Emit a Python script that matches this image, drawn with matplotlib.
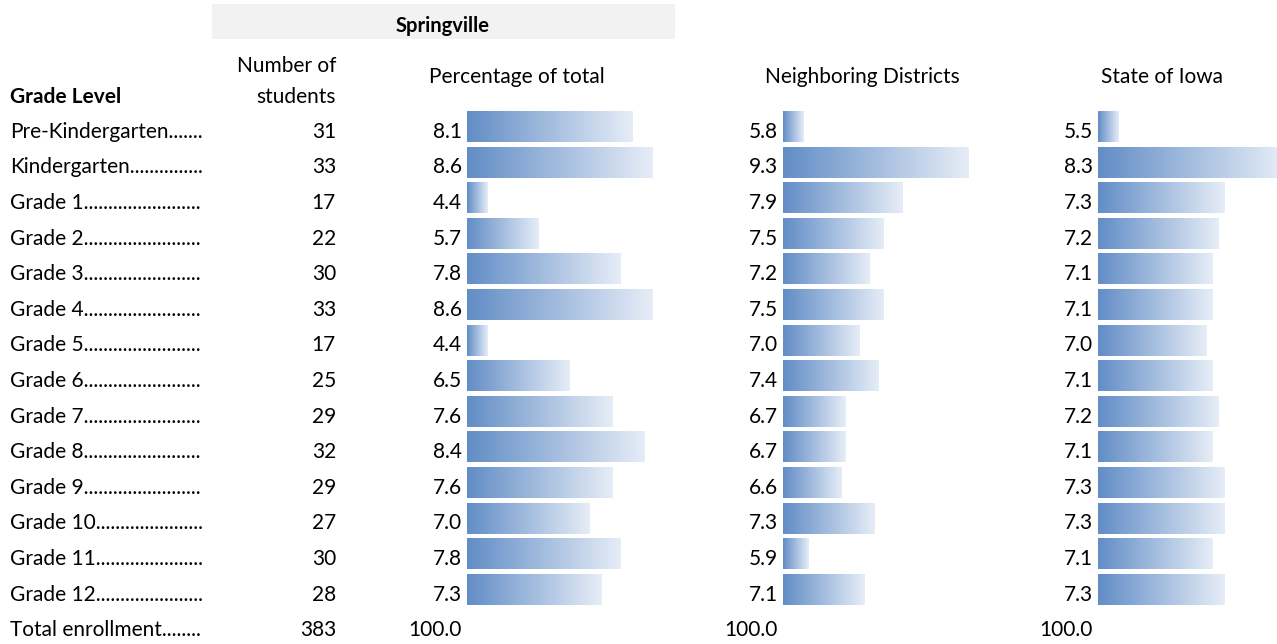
import matplotlib
matplotlib.use("Agg")
import matplotlib.pyplot as plt
from matplotlib.colors import LinearSegmentedColormap
from matplotlib.patches import Rectangle
import numpy as np

# data
grades = ["Pre-Kindergarten", "Kindergarten", "Grade 1", "Grade 2", "Grade 3",
          "Grade 4", "Grade 5", "Grade 6", "Grade 7", "Grade 8", "Grade 9",
          "Grade 10", "Grade 11", "Grade 12"]
students = [31, 33, 17, 22, 30, 33, 17, 25, 29, 32, 29, 27, 30, 28]
pct_total = [8.1, 8.6, 4.4, 5.7, 7.8, 8.6, 4.4, 6.5, 7.6, 8.4, 7.6, 7.0, 7.8, 7.3]
neighbor = [5.8, 9.3, 7.9, 7.5, 7.2, 7.5, 7.0, 7.4, 6.7, 6.7, 6.6, 7.3, 5.9, 7.1]
iowa = [5.5, 8.3, 7.3, 7.2, 7.1, 7.1, 7.0, 7.1, 7.2, 7.1, 7.3, 7.3, 7.1, 7.3]
total_label = "Total enrollment"
total_students = 383
total_pct = "100.0"

W, H = 1277, 644
ROW0 = 126.5   # centre of first row, px from top
PITCH = 35.6   # row pitch, px
CELL_W = 205.6 # width of a data-bar cell, px
LABEL_END = 205  # dot leaders stop here, px
FONT = "Lato"
FS = 15

plt.rcParams["font.family"] = [FONT, "DejaVu Sans"]

cmap = LinearSegmentedColormap.from_list("bar", ["#628DC6", "#E6EDF7"])
grad = np.linspace(0, 1, 256).reshape(1, -1)


def yrow(px):
    return (px - ROW0) / PITCH


fig = plt.figure(figsize=(W / 100, H / 100), dpi=100)
fig.patch.set_facecolor("white")

ax = fig.add_axes([0, 0, 1, 1])
ax.set_xlim(0, W)
ax.set_ylim(yrow(H), yrow(0))
ax.axis("off")

n = len(grades)
base_off = 0.32  # baseline offset below row centre, in rows

# header band
ax.add_patch(Rectangle((212, yrow(4)), 675 - 212, yrow(39) - yrow(4),
                       facecolor="#F2F2F2", edgecolor="none", zorder=0))
ax.text(443, yrow(32), "Springville", ha="center", va="baseline",
        fontsize=FS - 0.5, fontweight="bold")
ax.text(336, yrow(72), "Number of", ha="right", va="baseline", fontsize=FS)
ax.text(336, yrow(103), "students", ha="right", va="baseline", fontsize=FS)
ax.text(10, yrow(103), "Grade Level", ha="left", va="baseline",
        fontsize=FS, fontweight="bold")
ax.text(517, yrow(83), "Percentage of total", ha="center", va="baseline", fontsize=FS)
ax.text(862, yrow(83), "Neighboring Districts", ha="center", va="baseline", fontsize=FS)
ax.text(1162, yrow(83), "State of Iowa", ha="center", va="baseline", fontsize=FS)

# grade labels with dot leaders filled up to the cell edge
renderer = fig.canvas.get_renderer()
for i, g in enumerate(grades + [total_label]):
    t = ax.text(10, i + base_off, g, ha="left", va="baseline", fontsize=FS)
    dots = ""
    for _ in range(80):
        t.set_text(g + dots + ".")
        if t.get_window_extent(renderer).x1 > LABEL_END:
            break
        dots += "."
    t.set_text(g + dots)

for i, s in enumerate(students + [total_students]):
    ax.text(336, i + base_off, str(s), ha="right", va="baseline", fontsize=FS)

# data bar columns
columns = [(467, pct_total), (783, neighbor), (1098, iowa)]
for left_px, vals in columns:
    vmin, vmax = min(vals), max(vals)
    span = (vmax - vmin) / 0.8
    base = vmin - 0.125 * (vmax - vmin)
    bax = fig.add_axes([left_px / W, 0, CELL_W / W, 1])
    bax.axis("off")
    h = 0.87
    for i, v in enumerate(vals):
        bax.imshow(grad, cmap=cmap, aspect="auto", interpolation="bilinear",
                   extent=(base, v, i + h / 2, i - h / 2), zorder=2)
    bax.set_xlim(base, base + span)
    bax.set_ylim(yrow(H), yrow(0))
    for i, v in enumerate(vals):
        ax.text(left_px - 5, i + base_off, f"{v:.1f}", ha="right",
                va="baseline", fontsize=FS)
    ax.text(left_px - 5, n + base_off, total_pct, ha="right",
            va="baseline", fontsize=FS)

fig.savefig("out.png", dpi=100, facecolor="white")
